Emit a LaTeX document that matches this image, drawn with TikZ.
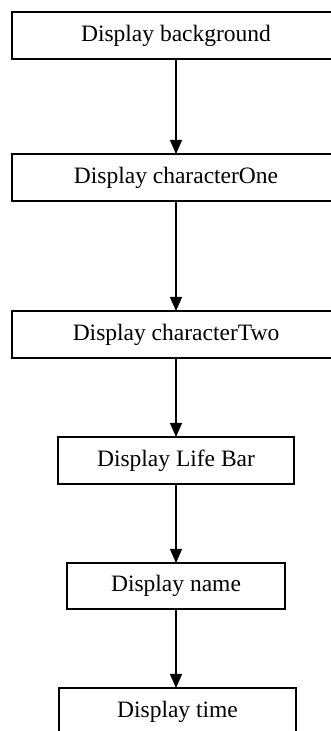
\documentclass[tikz,border=0pt]{standalone}
\usepackage{fontspec}
\setmainfont{Liberation Serif}
\usepackage{tikz}
\usetikzlibrary{positioning,arrows.meta}

\tikzset{
  stepbox/.style={draw=black,line width=1.4,fill=white,inner sep=0,outer sep=0,minimum height=47,font=\fontsize{23.5}{28}\selectfont},
  flow/.style={draw=black,line width=1.3,-{Triangle[width=12,length=14]}}
}

\begin{document}
\begin{tikzpicture}[x=1pt,y=1pt]
\useasboundingbox (0,0) rectangle (331,731);
\clip (0,0) rectangle (331,731);
% boxes
\node[stepbox,minimum width=328] (bg) at (176,695.5) {Display background};
\node[stepbox,minimum width=328] (one) at (176,553.5) {Display characterOne};
\node[stepbox,minimum width=328] (two) at (176,396.5) {Display characterTwo};
\node[stepbox,minimum width=236] (life) at (176,270.5) {Display Life Bar};
\node[stepbox,minimum width=218,minimum height=46] (name) at (176,145) {Display name};
\node[stepbox,minimum width=237] (time) at (177.5,19.5) {Display time};
% arrows
\draw[flow] (bg.south) -- (one.north);
\draw[flow] (one.south) -- (two.north);
\draw[flow] (two.south) -- (life.north);
\draw[flow] (life.south) -- (name.north);
\draw[flow] (name.south) -- (name.south |- time.north);
\end{tikzpicture}
\end{document}
